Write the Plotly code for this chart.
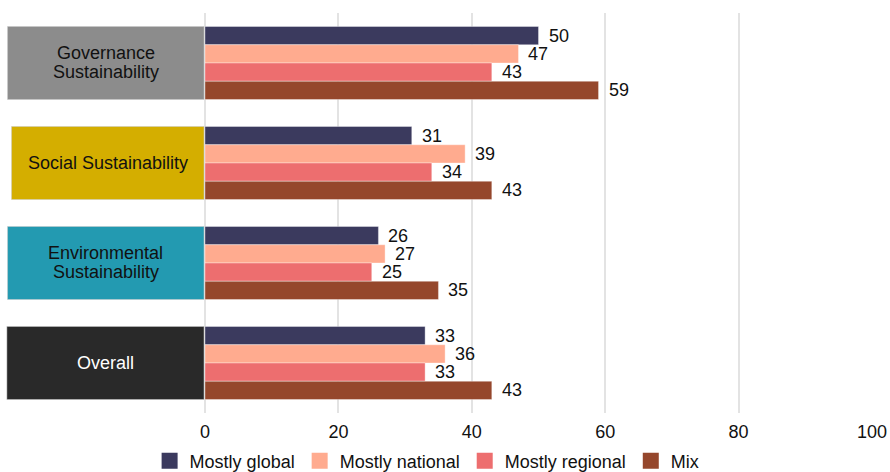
import plotly.graph_objects as go

categories = ["Governance<br>Sustainability", "Social Sustainability",
              "Environmental<br>Sustainability", "Overall"]
cat_colors = ["#8c8c8c", "#d4ae00", "#239ab1", "#292929"]
cat_text_colors = ["#111111", "#111111", "#111111", "#ffffff"]
cat_left = [-0.296, -0.290, -0.296, -0.297]

series = ["Mostly global", "Mostly national", "Mostly regional", "Mix"]
series_colors = ["#3b3a5e", "#ffab8f", "#ed6e6f", "#95472c"]
values = {
    "Mostly global":   [50, 31, 26, 33],
    "Mostly national": [47, 39, 27, 36],
    "Mostly regional": [43, 34, 25, 33],
    "Mix":             [59, 43, 35, 43],
}
x_ticks = [0, 20, 40, 60, 80, 100]

FONT = "Liberation Sans, Arial, Helvetica, sans-serif"
FS = 18
BARGAP = 0.27

fig = go.Figure()
ypos = list(range(len(categories)))

for name, color in zip(series, series_colors):
    fig.add_trace(go.Bar(
        x=values[name], y=ypos, orientation="h", name=name,
        marker=dict(color=color, line=dict(color="rgba(255,255,255,0.6)", width=0.6)),
        showlegend=False,
    ))
    # legend entry with a larger square swatch
    fig.add_trace(go.Scatter(
        x=[None], y=[None], mode="markers", name=name,
        marker=dict(symbol="square", size=16, color=color),
    ))

# value labels to the right of each bar
n = len(series)
slot = (1 - BARGAP) / n
annotations = []
for k, name in enumerate(series):
    for i, v in enumerate(values[name]):
        annotations.append(dict(
            x=v, y=i - (1 - BARGAP) / 2 + slot * (k + 0.5),
            xref="x", yref="y", text=str(v), showarrow=False,
            xanchor="left", yanchor="middle", xshift=8,
            font=dict(family=FONT, size=FS, color="#111111"),
        ))

# coloured category boxes on the left, with tightly spaced label lines
shapes = []
for i, (lab, col, tcol, x0) in enumerate(zip(categories, cat_colors, cat_text_colors, cat_left)):
    shapes.append(dict(
        type="rect", xref="paper", yref="y",
        x0=x0, x1=-0.0015,
        y0=i - (1 - BARGAP) / 2, y1=i + (1 - BARGAP) / 2,
        fillcolor=col, line=dict(color="rgba(200,200,200,0.5)", width=1),
        layer="above",
    ))
    lines = lab.split("<br>")
    shifts = [0] if len(lines) == 1 else [10, -8.5]
    for line, dy in zip(lines, shifts):
        annotations.append(dict(
            x=(x0 - 0.0015) / 2, y=i, xref="paper", yref="y", yshift=dy,
            text=line, showarrow=False, xanchor="center", yanchor="middle",
            font=dict(family=FONT, size=FS, color=tcol),
        ))

fig.update_layout(
    width=890, height=472,
    margin=dict(l=205, r=18, t=13, b=59, autoexpand=False),
    plot_bgcolor="white", paper_bgcolor="white",
    barmode="group", bargap=BARGAP, bargroupgap=0,
    font=dict(family=FONT, size=FS, color="#111111"),
    xaxis=dict(
        range=[0, 100], tickvals=x_ticks, showgrid=True, automargin=False,
        gridcolor="#e3e3e3", gridwidth=1.5, zeroline=True, zerolinecolor="#e3e3e3",
        zerolinewidth=1.5, showline=False, ticks="", ticklabelstandoff=6,
        tickfont=dict(family=FONT, size=FS, color="#111111"), fixedrange=True,
    ),
    yaxis=dict(
        range=[3.5, -0.5], showticklabels=False, showgrid=False, automargin=False,
        zeroline=False, showline=False, ticks="",
    ),
    legend=dict(
        orientation="h", x=0.333, xanchor="center",
        y=-0.12, yanchor="middle",
        font=dict(family=FONT, size=FS, color="#111111"),
        itemclick=False, bgcolor="rgba(0,0,0,0)", tracegroupgap=0,
    ),
    shapes=shapes, annotations=annotations,
)

fig.write_html("out.html")
